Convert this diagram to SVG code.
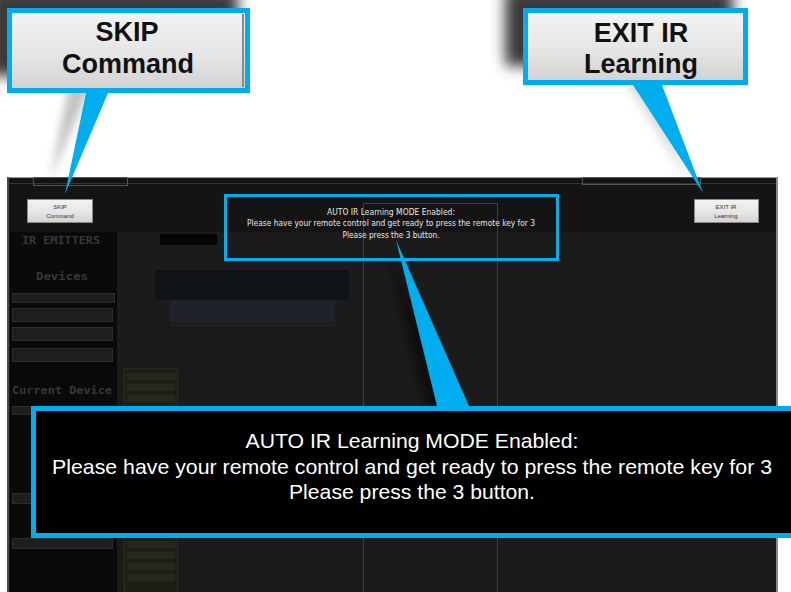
<svg xmlns="http://www.w3.org/2000/svg" width="791" height="592" viewBox="0 0 791 592">
<defs>
<style>
.cy{fill:#00AEEF}
.cys{fill:none;stroke:#00AEEF}
.big{font-family:"Liberation Sans",Arial,sans-serif;font-weight:bold;font-size:27px;fill:#111;text-anchor:middle}
.msg{font-family:"Liberation Sans",Arial,sans-serif;font-size:21px;fill:#fff;text-anchor:middle}
.sm{font-family:"DejaVu Sans Condensed","Liberation Sans",sans-serif;font-size:8px;fill:#e6e6e6;text-anchor:middle}
.tiny{font-family:"Liberation Sans",Arial,sans-serif;font-size:6px;fill:#333;text-anchor:middle}
.side{font-family:"DejaVu Sans Mono","Liberation Mono",monospace;font-weight:bold;font-size:10px;fill:#383838;text-anchor:middle}
.row{fill:#1e1e1e;stroke:#2c2c2c;stroke-width:1}
.shd{fill:#3a3a3a}
</style>
<linearGradient id="btn" x1="0" y1="0" x2="0" y2="1">
<stop offset="0" stop-color="#f3f3f3"/>
<stop offset="0.6" stop-color="#e4e4e4"/>
<stop offset="1" stop-color="#d2d2d2"/>
</linearGradient>
<filter id="blur" x="-30%" y="-30%" width="160%" height="160%"><feGaussianBlur stdDeviation="7"/></filter>
<filter id="blur2" x="-30%" y="-30%" width="160%" height="160%"><feGaussianBlur stdDeviation="4"/></filter>
</defs>
<rect width="791" height="592" fill="#ffffff"/>

<!-- shadows of top callouts -->
<g id="shadows">
<rect class="shd" x="-12" y="-12" width="250" height="88" filter="url(#blur)"/>
<polygon points="70,80 93,80 50,180" fill="#9a9a9a" opacity="0.6" filter="url(#blur2)"/>
<rect class="shd" x="505" y="-12" width="228" height="78" filter="url(#blur)"/>
<polygon points="618,70 648,70 690,185" fill="#bdbdbd" opacity="0.5" filter="url(#blur2)"/>
</g>

<!-- screenshot panel -->
<g id="screen">
<rect x="7" y="177" width="771" height="420" fill="#1b1b1b"/>
<rect x="9" y="179" width="767" height="53" fill="#141414"/>
<line x1="7" y1="177.5" x2="778" y2="177.5" stroke="#9a9a9a" stroke-width="1"/>
<line x1="7" y1="183.5" x2="776" y2="183.5" stroke="#333" stroke-width="1"/>
<rect x="33.5" y="177.5" width="94" height="8" fill="none" stroke="#555" stroke-width="1"/>
<rect x="582.5" y="177.5" width="118" height="7" fill="none" stroke="#555" stroke-width="1"/>
<line x1="8" y1="177" x2="8" y2="592" stroke="#4a4a4a" stroke-width="2"/>
<line x1="777" y1="177" x2="777" y2="592" stroke="#8a8a8a" stroke-width="2"/>
<!-- sidebar -->
<rect x="10" y="232" width="107" height="360" fill="#0a0a0a"/>
<text class="side" x="61" y="244" textLength="78" lengthAdjust="spacingAndGlyphs">IR EMITTERS</text>
<text class="side" x="62" y="280" textLength="52" lengthAdjust="spacingAndGlyphs">Devices</text>
<rect class="row" x="12.5" y="293.5" width="102" height="9"/>
<rect class="row" x="12.5" y="308.5" width="100" height="13"/>
<rect class="row" x="12.5" y="327.5" width="100" height="13"/>
<rect class="row" x="12.5" y="348.5" width="100" height="13"/>
<text class="side" x="62" y="394" textLength="100" lengthAdjust="spacingAndGlyphs">Current Device</text>
<rect class="row" x="12.5" y="406.5" width="100" height="8"/>
<rect class="row" x="12.5" y="493.5" width="100" height="10"/>
<rect class="row" x="12.5" y="538.5" width="100" height="10"/>
<!-- main area faint content -->
<rect x="160" y="234" width="57" height="11" fill="#050505"/>
<rect x="155" y="270" width="194" height="30" fill="#0f1216"/>
<rect x="170" y="300" width="165" height="22" fill="#1d2328"/>
<line x1="170" y1="325.5" x2="335" y2="325.5" stroke="#262626"/>
<rect x="124.5" y="368.5" width="53" height="224" fill="#1c1f14" stroke="#2a2e1e"/>
<g fill="#25291a">
<rect x="127" y="373" width="48" height="7"/><rect x="127" y="384" width="48" height="7"/><rect x="127" y="395" width="48" height="7"/>
<rect x="127" y="541" width="48" height="7"/><rect x="127" y="552" width="48" height="7"/><rect x="127" y="563" width="48" height="7"/><rect x="127" y="574" width="48" height="7"/>
</g>
<rect x="363.5" y="203.5" width="134" height="400" fill="none" stroke="#3e3e3e" stroke-width="1"/>
<!-- small buttons -->
<rect x="27.5" y="199.5" width="65" height="23" fill="url(#btn)" stroke="#888" stroke-width="1"/>
<text class="tiny" x="60" y="209">SKIP</text>
<text class="tiny" x="60" y="217.5">Command</text>
<rect x="694.5" y="199.5" width="64" height="23" fill="url(#btn)" stroke="#888" stroke-width="1"/>
<text class="tiny" x="726" y="209">EXIT IR</text>
<text class="tiny" x="726" y="217.5">Learning</text>
<!-- small message -->
<text class="sm" x="391" y="215" textLength="128" lengthAdjust="spacingAndGlyphs">AUTO IR Learning MODE Enabled:</text>
<text class="sm" x="391" y="226" textLength="288" lengthAdjust="spacingAndGlyphs">Please have your remote control and get ready to press the remote key for 3</text>
<text class="sm" x="391" y="238" textLength="97" lengthAdjust="spacingAndGlyphs">Please press the 3 button.</text>
</g>

<!-- callout tails -->
<g id="connectors">
<polygon points="86,93 108,93 65,194" class="cy"/>
<polygon points="633,85 662,85 703,193" class="cy"/>
<polygon points="386,245 425,406 455,406" fill="#000" opacity="0.45" filter="url(#blur2)"/>
<polygon points="396,240 437,406 469,406" class="cy"/>
</g>

<g id="small-highlight">
<rect x="225.5" y="195.5" width="332" height="64" class="cys" stroke-width="3"/>
</g>

<g id="skip-callout">
<rect x="7" y="8" width="243" height="85" class="cy"/>
<rect x="12" y="13" width="233" height="75" fill="url(#btn)"/>
<line x1="243" y1="14" x2="243" y2="87" stroke="#8a8a8a" stroke-width="2"/>
<text class="big" x="127" y="41">SKIP</text>
<text class="big" x="128" y="73">Command</text>
</g>

<g id="exit-callout">
<rect x="523" y="8" width="225" height="77" class="cy"/>
<rect x="528" y="13" width="215" height="67" fill="url(#btn)"/>
<text class="big" x="641" y="42">EXIT IR</text>
<text class="big" x="641" y="73">Learning</text>
</g>

<g id="message-callout">
<rect x="31" y="406" width="775" height="132" class="cy"/>
<rect x="36" y="411" width="770" height="122" fill="#000"/>
<text class="msg" x="412" y="448" textLength="333" lengthAdjust="spacingAndGlyphs">AUTO IR Learning MODE Enabled:</text>
<text class="msg" x="412" y="474" textLength="720" lengthAdjust="spacingAndGlyphs">Please have your remote control and get ready to press the remote key for 3</text>
<text class="msg" x="412" y="499" textLength="246" lengthAdjust="spacingAndGlyphs">Please press the 3 button.</text>
</g>
</svg>
